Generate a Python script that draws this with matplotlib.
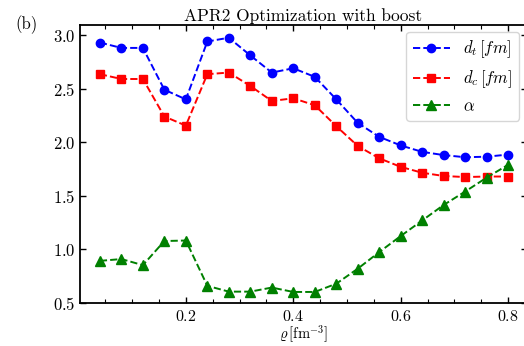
import matplotlib
matplotlib.use('Agg')
import matplotlib.pyplot as plt
from matplotlib.ticker import MultipleLocator

plt.rcParams['font.family'] = 'serif'
plt.rcParams['font.serif'] = ['cmr10']
plt.rcParams['mathtext.fontset'] = 'cm'
plt.rcParams['axes.formatter.use_mathtext'] = True

# density points
rho = [0.04, 0.08, 0.12, 0.16, 0.20, 0.24, 0.28, 0.32, 0.36, 0.40,
       0.44, 0.48, 0.52, 0.56, 0.60, 0.64, 0.68, 0.72, 0.76, 0.80]
d_t = [2.93, 2.88, 2.88, 2.49, 2.40, 2.94, 2.975, 2.81, 2.65, 2.69,
       2.61, 2.40, 2.18, 2.05, 1.97, 1.91, 1.88, 1.86, 1.865, 1.885]
d_c = [2.635, 2.59, 2.59, 2.24, 2.155, 2.635, 2.65, 2.525, 2.385, 2.41,
       2.345, 2.15, 1.965, 1.85, 1.77, 1.715, 1.685, 1.675, 1.68, 1.68]
alpha = [0.893, 0.91, 0.853, 1.078, 1.083, 0.66, 0.606, 0.606, 0.644, 0.603,
         0.603, 0.68, 0.82, 0.975, 1.125, 1.27, 1.415, 1.54, 1.67, 1.79]

fig = plt.figure(figsize=(5.24, 3.46), dpi=100)
ax = fig.add_axes([0.1527, 0.1243, 0.853, 0.8035])

ax.plot(rho, d_t, 'b--', marker='o', ms=6, lw=1.4, label=r'$d_t\,[fm]$')
ax.plot(rho, d_c, 'r--', marker='s', ms=6, lw=1.4, label=r'$d_c\,[fm]$')
ax.plot(rho, alpha, '--', color='green', marker='^', ms=6.5, lw=1.4, label=r'$\alpha$')

ax.set_xlim(0.003, 0.835)
ax.set_ylim(0.5, 3.094)
ax.xaxis.set_major_locator(MultipleLocator(0.2))
ax.xaxis.set_minor_locator(MultipleLocator(0.05))
ax.yaxis.set_major_locator(MultipleLocator(0.5))
ax.tick_params(which='both', direction='in', top=True, right=True, labelsize=12)
ax.tick_params(which='major', length=4, width=1)
ax.tick_params(which='minor', length=3, width=0.8)
ax.tick_params(axis='x', pad=4, labelsize=11.5)
for s in ax.spines.values():
    s.set_linewidth(1.3)

ax.set_title('APR2 Optimization with boost', fontsize=12.5, pad=3)
ax.set_xlabel(r'$\varrho\,[\mathrm{fm}^{-3}]$', fontsize=10.5, labelpad=0)
fig.text(0.03, 0.915, '(b)', fontsize=12)

ax.legend(loc='upper right', bbox_to_anchor=(519 / 524, 1 - 32 / 346),
          bbox_transform=fig.transFigure, borderaxespad=0, fontsize=12,
          handlelength=2.2, fancybox=True)

fig.savefig('out.png', dpi=100)
